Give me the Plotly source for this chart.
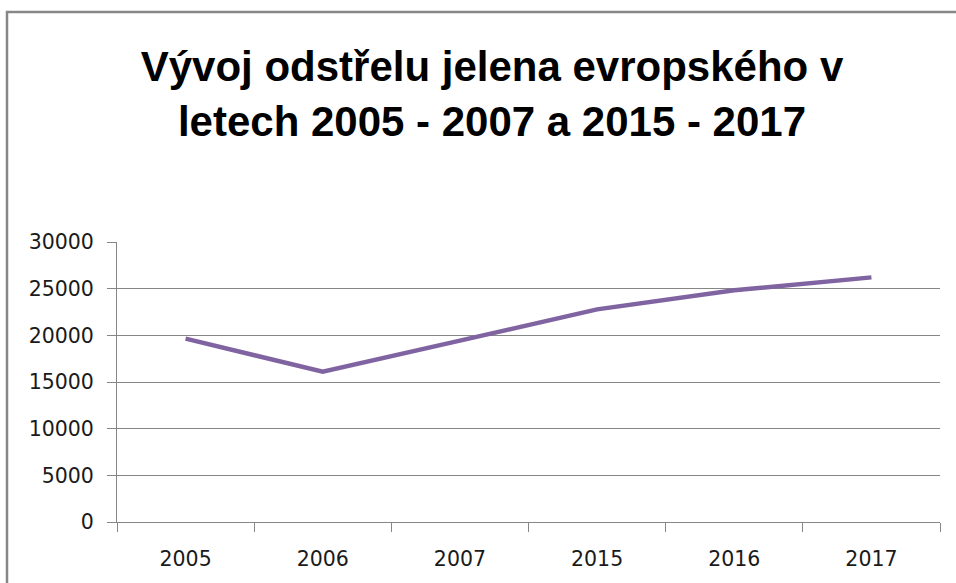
import plotly.graph_objects as go

years = ["2005", "2006", "2007", "2015", "2016", "2017"]
harvest = [19650, 16100, 19430, 22780, 24820, 26210]
y_ticks = [0, 5000, 10000, 15000, 20000, 25000, 30000]

W, H = 956, 583
L, R, T, B = 117, 16, 242, 61
pw, ph = W - L - R, H - T - B

def px_x(x):
    return (x - L) / pw

def px_y(y):
    return (H - B - y) / ph

tick_font = dict(family="DejaVu Sans, Liberation Sans, sans-serif", size=20.5, color="#1a1a1a")

fig = go.Figure()
fig.add_trace(go.Scatter(
    x=years, y=harvest, mode="lines",
    line=dict(color="#8064A2", width=4.5),
    hoverinfo="x+y", showlegend=False,
))

fig.update_layout(
    width=W, height=H,
    margin=dict(l=L, r=R, t=T, b=B),
    paper_bgcolor="white", plot_bgcolor="white",
    title=dict(
        text="<b>Vývoj odstřelu jelena evropského v<br>letech 2005 - 2007 a 2015 - 2017</b>",
        x=492 / W, xanchor="center", xref="container",
        y=1 - 81 / H, yanchor="middle", yref="container",
        font=dict(family="Liberation Sans, Arial, sans-serif", size=42, color="#000000"),
    ),
    font=tick_font,
    xaxis=dict(
        type="category", categoryorder="array", categoryarray=years,
        range=[-0.5, len(years) - 0.5],
        tickson="boundaries", ticks="outside", ticklen=9, tickcolor="#868686",
        showline=True, linecolor="#868686", linewidth=1,
        showgrid=False, ticklabelstandoff=18,
        tickfont=tick_font,
        fixedrange=True,
    ),
    yaxis=dict(
        range=[0, 30000], tickvals=y_ticks, ticktext=[str(v) for v in y_ticks],
        ticks="outside", ticklen=9, tickcolor="#868686",
        showline=True, linecolor="#868686", linewidth=1,
        showgrid=True, gridcolor="#868686", gridwidth=1,
        zeroline=False, ticklabelstandoff=9,
        tickfont=tick_font,
        fixedrange=True,
    ),
    shapes=[dict(
        type="rect", xref="paper", yref="paper",
        x0=px_x(7), x1=px_x(990), y0=px_y(620), y1=px_y(12),
        line=dict(color="#878787", width=2.5), fillcolor="rgba(0,0,0,0)",
        layer="below",
    )],
)

fig.write_html(
    "out.html",
    config={"displayModeBar": False},
    post_script="document.body.style.margin='0';document.body.style.overflow='hidden';",
)
